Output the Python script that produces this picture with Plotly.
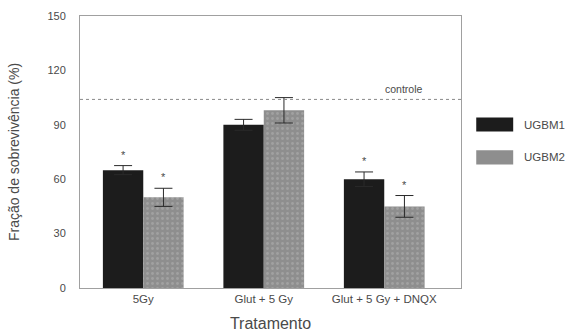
import plotly.graph_objects as go

tratamentos = ["5Gy", "Glut + 5 Gy", "Glut + 5 Gy + DNQX"]
ugbm1 = [65, 90, 60]
ugbm1_err = [2.5, 3, 4]
ugbm2 = [50, 98, 45]
ugbm2_err = [5, 7, 6]
sig_ugbm1 = [True, False, True]
sig_ugbm2 = [True, False, True]
controle = 104
y_ticks = [0, 30, 60, 90, 120, 150]

FONT = "Liberation Sans, Arial, sans-serif"
TXT = "#4a4a4a"

x = list(range(len(tratamentos)))

fig = go.Figure()
fig.add_trace(go.Bar(
    x=x, y=ugbm1, name="UGBM1",
    marker=dict(color="#1c1c1c", line=dict(width=0)),
    error_y=dict(type="data", array=ugbm1_err, color="#2a2a2a", thickness=1, width=9),
    showlegend=False,
))
fig.add_trace(go.Bar(
    x=x, y=ugbm2, name="UGBM2",
    marker=dict(color="#8e8e8e", line=dict(width=0),
                pattern=dict(shape=".", fgcolor="#b4b4b4", size=5, solidity=0.25)),
    error_y=dict(type="data", array=ugbm2_err, color="#2a2a2a", thickness=1, width=9),
    showlegend=False,
))

# significance marks above the error bars
off = 0.1675
for i in x:
    if sig_ugbm1[i]:
        fig.add_annotation(x=i - off, y=ugbm1[i] + ugbm1_err[i], text="*", showarrow=False,
                           yshift=11, font=dict(family=FONT, size=11, color=TXT))
    if sig_ugbm2[i]:
        fig.add_annotation(x=i + off, y=ugbm2[i] + ugbm2_err[i], text="*", showarrow=False,
                           yshift=11, font=dict(family=FONT, size=11, color=TXT))

# control reference level
fig.add_shape(type="line", xref="paper", x0=0, x1=1, yref="y", y0=controle, y1=controle,
              line=dict(color="#8a8a8a", width=1, dash="dot"))
fig.add_annotation(xref="paper", x=0.85, xanchor="center", y=controle, text="controle",
                   showarrow=False, yshift=10, font=dict(family=FONT, size=10.5, color=TXT))

# legend drawn beside the plot area
legend_items = [("UGBM1", "#1c1c1c"), ("UGBM2", "#8e8e8e")]
for k, (name, col) in enumerate(legend_items):
    y_top = 0.627 - k * 0.121
    fig.add_shape(type="rect", xref="paper", yref="paper",
                  x0=1.04, x1=1.137, y0=y_top - 0.052, y1=y_top,
                  fillcolor=col, line=dict(width=0))
    fig.add_annotation(xref="paper", yref="paper", x=1.16, y=y_top - 0.026, text=name,
                       showarrow=False, xanchor="left",
                       font=dict(family=FONT, size=11.5, color=TXT))

fig.update_layout(
    width=570, height=335,
    margin=dict(l=80, r=109, t=16, b=47),
    paper_bgcolor="white", plot_bgcolor="white",
    barmode="group", bargap=0.33, bargroupgap=0,
    font=dict(family=FONT, color=TXT),
    xaxis=dict(
        range=[-0.525, 2.637], tickvals=x, ticktext=tratamentos, automargin=False,
        showline=True, linecolor="#a0a0a0", linewidth=1, mirror=True,
        ticks="", showgrid=False, zeroline=False,
        tickfont=dict(family=FONT, size=11.5, color=TXT),
        title=dict(text="Tratamento", font=dict(family=FONT, size=16, color=TXT), standoff=14),
    ),
    yaxis=dict(
        range=[0, 150], tickvals=y_ticks, automargin=False,
        showline=True, linecolor="#a0a0a0", linewidth=1, mirror=True,
        ticks="", showgrid=False, zeroline=False, ticklabelstandoff=11,
        tickfont=dict(family=FONT, size=11, color=TXT),
        title=dict(text="Fração de sobrevivência (%)", font=dict(family=FONT, size=14, color=TXT),
                   standoff=24),
    ),
)

fig.write_html("out.html")
